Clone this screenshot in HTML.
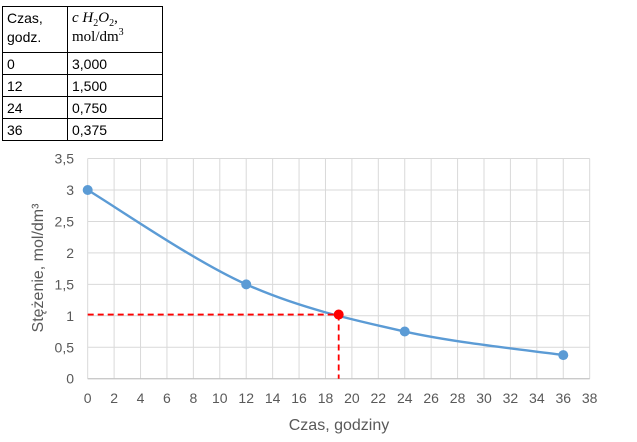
<!DOCTYPE html>
<html><head><meta charset="utf-8"><style>
body{margin:0;background:#fff;width:637px;height:442px;overflow:hidden;font-family:"Liberation Sans",sans-serif}
table{position:absolute;left:2px;top:6px;border-collapse:collapse;font-family:"Liberation Sans",sans-serif;font-size:14px;color:#000}
td{border:1px solid #000;padding:0 4px;height:21px;line-height:18px}
td.a{width:56px}td.b{width:86px}
.h td{height:43px;line-height:19px;vertical-align:top;padding-top:2px}
.s{font-family:"Liberation Serif",serif;font-size:15px}
sub,sup{line-height:0;font-size:10px}
</style></head><body>
<table>
<tr class="h"><td class="a">Czas,<br>godz.</td><td class="b s"><i>c H</i><sub>2</sub><i>O</i><sub>2</sub>,<br>mol/dm<sup>3</sup></td></tr>
<tr><td>0</td><td>3,000</td></tr>
<tr><td>12</td><td>1,500</td></tr>
<tr><td>24</td><td>0,750</td></tr>
<tr><td>36</td><td>0,375</td></tr>
</table>
<svg id="c" width="637" height="442" style="position:absolute;left:0;top:0"></svg>
<script>
const xs=[0,12,24,36];
const ys=[3,1.5,0.75,0.375];
const markX=19, markY=1.02;
const xTicks=[0,2,4,6,8,10,12,14,16,18,20,22,24,26,28,30,32,34,36,38];
const yTicks=[0,0.5,1,1.5,2,2.5,3,3.5];
const X=v=>87.7+v*13.21, Y=v=>378.7-v*62.9;
const svg=document.getElementById('c'),NS='http://www.w3.org/2000/svg';
function mk(t,a,txt){const e=document.createElementNS(NS,t);for(const k in a)e.setAttribute(k,a[k]);if(txt!=null)e.textContent=txt;svg.appendChild(e);return e;}
xTicks.forEach(t=>{const e=mk('line',{x1:X(t),x2:X(t),y1:Y(3.5),y2:Y(0),stroke:'#d9d9d9','stroke-width':1});

const l=mk('text',{x:X(t),y:403,'text-anchor':'middle','font-size':14,fill:'#595959'},String(t));
});
yTicks.forEach(t=>{const e=mk('line',{x1:X(0),x2:X(38),y1:Y(t),y2:Y(t),stroke:'#d9d9d9','stroke-width':1});

const l=mk('text',{x:74,y:Y(t)+5,'text-anchor':'end','font-size':14,fill:'#595959'},String(t).replace('.',','));
});
const ax=mk('line',{x1:X(0),x2:X(38),y1:Y(0),y2:Y(0),stroke:'#bfbfbf','stroke-width':1});

const P=xs.map((x,i)=>[X(x),Y(ys[i])]);
let d='M'+P[0][0]+','+P[0][1];
for(let i=0;i<P.length-1;i++){const p0=P[i-1]||P[i],p1=P[i],p2=P[i+1],p3=P[i+2]||P[i+1];
const c1=[p1[0]+(p2[0]-p0[0])/6,p1[1]+(p2[1]-p0[1])/6],c2=[p2[0]-(p3[0]-p1[0])/6,p2[1]-(p3[1]-p1[1])/6];
d+=` C${c1[0]},${c1[1]} ${c2[0]},${c2[1]} ${p2[0]},${p2[1]}`;}
const cur=mk('path',{d:d,fill:'none',stroke:'#5b9bd5','stroke-width':2.4});

const h=mk('line',{x1:X(0),x2:X(markX),y1:Y(markY),y2:Y(markY),stroke:'#ff0000','stroke-width':1.8,'stroke-dasharray':'6,4'});

const v=mk('line',{x1:X(markX),x2:X(markX),y1:Y(markY),y2:Y(0),stroke:'#ff0000','stroke-width':1.8,'stroke-dasharray':'6,4'});

P.forEach(p=>{const c=mk('circle',{cx:p[0],cy:p[1],r:5,fill:'#5b9bd5'});
});
const rp=mk('circle',{cx:X(markX),cy:Y(markY),r:5,fill:'#ff0000'});

const xt=mk('text',{x:339,y:430,'text-anchor':'middle','font-size':16,fill:'#595959'},'Czas, godziny');

const yt=mk('text',{x:0,y:0,'text-anchor':'middle','font-size':16,fill:'#595959',transform:'translate(43,268) rotate(-90)'},'Stężenie, mol/dm³');

</script>
</body></html>
